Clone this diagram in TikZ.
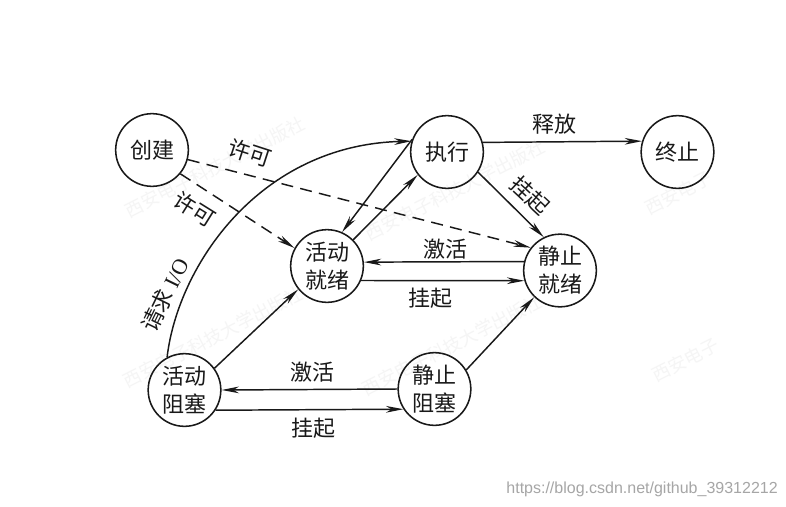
\documentclass[tikz,border=0pt]{standalone}
\usepackage{fontspec}
\setmainfont{Noto Sans CJK SC}
\newfontfamily\latinfont{Liberation Serif}
\newfontfamily\urlfont{Liberation Sans}
\usetikzlibrary{arrows.meta}
\tikzset{
  x=0.75pt,y=-0.75pt,
  state/.style={circle,draw=black!90,line width=1.15pt,minimum size=54.5pt,inner sep=0pt,align=center,font=\fontsize{16.5pt}{21pt}\selectfont,text=black!90},
  conn/.style={draw=black!90,line width=1.1pt,-{Stealth[length=13pt,width=5pt,inset=4pt]}},
  dashconn/.style={conn,dash pattern=on 9pt off 5.5pt},
  lab/.style={font=\fontsize{16.5pt}{19pt}\selectfont,text=black!90,inner sep=0pt},
  wmark/.style={font=\fontsize{13.5pt}{15pt}\selectfont,text=black!4,inner sep=0pt,rotate=27},
}
\begin{document}
\begin{tikzpicture}
\useasboundingbox (0,0) rectangle (786,507);
\fill[white] (0,0) rectangle (786,507);
% faint watermarks
\node[wmark] (w1) at (215,167) {西安电子科技大学出版社};
\node[wmark] (w2) at (455,190) {西安电子科技大学出版社};
\node[wmark] (w3) at (213,337) {西安电子科技大学出版社};
\node[wmark] (w4) at (452,345) {西安电子科技大学出版社};
\node[wmark] (w5) at (685,360) {西安电子};
\node[wmark] (w6) at (678,193) {西安电子};
% states
\node[state] (create) at (152,150) {创建};
\node[state] (run) at (447,152) {执行};
\node[state] (stop) at (677.5,152) {终止};
\node[state] (aready) at (327,266) {活动\\就绪};
\node[state] (sready) at (560,270.5) {静止\\就绪};
\node[state] (ablock) at (184.5,390) {活动\\阻塞};
\node[state] (sblock) at (434.5,389) {静止\\阻塞};
% connectors
\draw[dashconn] (create.-15.5) -- (sready.142.8);
\draw[dashconn] (create.-40) -- (aready.151);
\draw[conn] (ablock.118.6) .. controls (178,265) and (260,145) .. (run.163);
\draw[conn] (run.160.6) -- (aready.66);
\draw[conn] (aready.45) -- (run.218.7);
\draw[conn] (run.-33) -- (sready.116);
\draw[conn] (run.15.5) -- (stop.163);
\draw[conn] (sready.166.7) -- (aready.6);
\draw[conn] (aready.-23) -- (sready.196.7);
\draw[conn] (ablock.36) -- (aready.219.6);
\draw[conn] (sblock.31.6) -- (sready.226.7);
\draw[conn] (sblock.180) -- (ablock.0);
\draw[conn] (ablock.-33) -- (sblock.213.7);
% labels
\node[lab,rotate=-18] (l1) at (250,153) {许可};
\node[lab,rotate=-32] (l2) at (195,209) {许可};
\node[lab,rotate=64] (l3) at (165,295) {请求 {\latinfont I/O}};
\node[lab] (l4) at (554,124) {释放};
\node[lab,rotate=-43] (l5) at (530,195) {挂起};
\node[lab] (l6) at (445,249) {激活};
\node[lab] (l7) at (430,298) {挂起};
\node[lab] (l8) at (312,372) {激活};
\node[lab] (l9) at (313,428) {挂起};
\node[font=\fontsize{12pt}{14pt}\urlfont,text=black!35,inner sep=0pt,anchor=east] (url) at (778,489) {https://blog.csdn.net/github\_39312212};
\end{tikzpicture}
\end{document}
